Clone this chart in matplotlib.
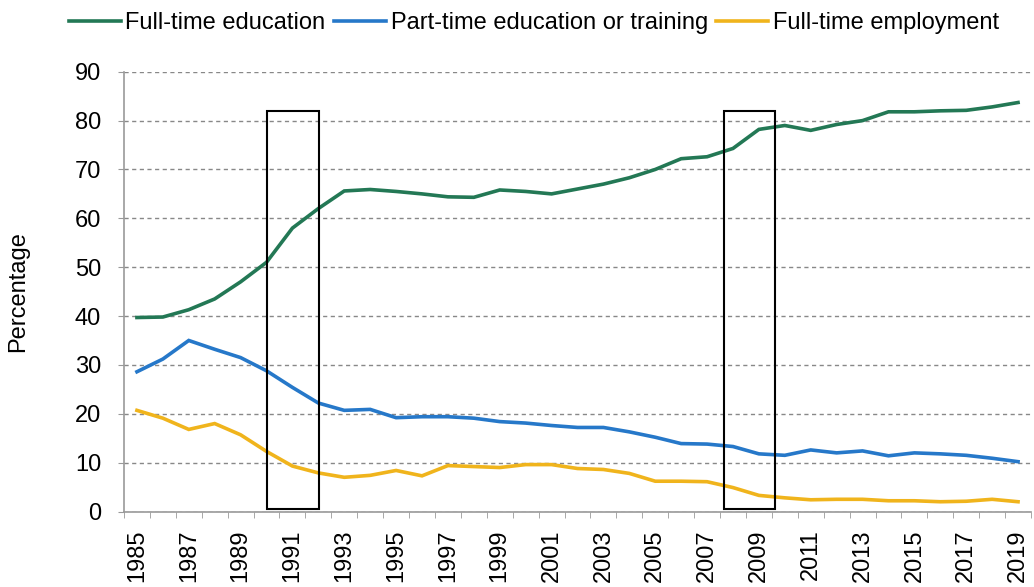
import numpy as np
import matplotlib.pyplot as plt
from matplotlib.patches import Rectangle

plt.rcParams['font.family'] = ['Liberation Sans', 'DejaVu Sans']

years = list(range(1985, 2020))
full_time_edu = [39.7, 39.8, 41.3, 43.5, 47.0, 51.0, 58.0, 62.0, 65.6, 65.9,
                 65.5, 65.0, 64.4, 64.3, 65.8, 65.5, 65.0, 66.0, 67.0, 68.3,
                 70.0, 72.2, 72.6, 74.3, 78.2, 79.0, 78.0, 79.2, 80.0, 81.8,
                 81.8, 82.0, 82.1, 82.8, 83.7]
part_time_edu = [28.6, 31.2, 35.0, 33.2, 31.5, 28.8, 25.4, 22.2, 20.7, 20.9,
                 19.2, 19.4, 19.4, 19.1, 18.4, 18.1, 17.6, 17.2, 17.2, 16.3,
                 15.2, 13.9, 13.8, 13.3, 11.8, 11.5, 12.6, 12.0, 12.4, 11.4,
                 12.0, 11.8, 11.5, 10.9, 10.2]
full_time_emp = [20.7, 19.1, 16.8, 18.0, 15.7, 12.3, 9.3, 7.9, 7.0, 7.4,
                 8.4, 7.3, 9.4, 9.2, 9.0, 9.6, 9.6, 8.8, 8.6, 7.8,
                 6.2, 6.2, 6.1, 4.9, 3.3, 2.8, 2.4, 2.5, 2.5, 2.2,
                 2.2, 2.0, 2.1, 2.5, 2.0]
labels = ['Full-time education', 'Part-time education or training', 'Full-time employment']
colors = ['#237855', '#2678c9', '#f0b41c']

# highlighted periods (recessions), in category positions
boxes = [(5.0, 7.03), (22.66, 24.63)]
box_top = 82.0
box_bottom = 0.5

fig = plt.figure(figsize=(10.34, 5.87), dpi=100)
ax = fig.add_axes([0.1199, 0.1286, 0.8772, 0.7492])

x = np.arange(len(years))
for vals, lab, col in zip([full_time_edu, part_time_edu, full_time_emp], labels, colors):
    ax.plot(x, vals, color=col, lw=2.6, label=lab, solid_joinstyle='miter')

for x0, x1 in boxes:
    ax.add_patch(Rectangle((x0, box_bottom), x1 - x0, box_top - box_bottom,
                           fill=False, edgecolor='black', lw=1.5, zorder=5))

ax.set_xlim(-0.5, len(years) - 0.5)
ax.set_ylim(0, 90)
ax.set_yticks(range(0, 91, 10))
ax.set_xticks(x[::2])
ax.set_xticklabels([str(y) for y in years[::2]], rotation=90)
ax.set_xticks(np.arange(-0.5, len(years), 1), minor=True)
ax.tick_params(axis='x', which='major', length=0, pad=13, labelsize=17)
ax.tick_params(axis='x', which='minor', length=4.5, color='#999999', direction='out')
ax.tick_params(axis='y', length=4.5, color='#999999', labelsize=17, pad=12)

ax.grid(axis='y', linestyle=(0, (3, 2.5)), color='#888888', lw=1)
ax.set_axisbelow(True)
for s in ['top', 'right']:
    ax.spines[s].set_visible(False)
for s in ['left', 'bottom']:
    ax.spines[s].set_color('#999999')
    ax.spines[s].set_linewidth(1.2)

ax.set_ylabel('Percentage', fontsize=17, labelpad=33)

fig.legend(loc='upper left', bbox_to_anchor=(0.046, 1.016), ncol=3, frameon=False,
           fontsize=17, handlelength=2.2, handletextpad=0.2, columnspacing=0.35)

fig.savefig('out.png', dpi=100)
